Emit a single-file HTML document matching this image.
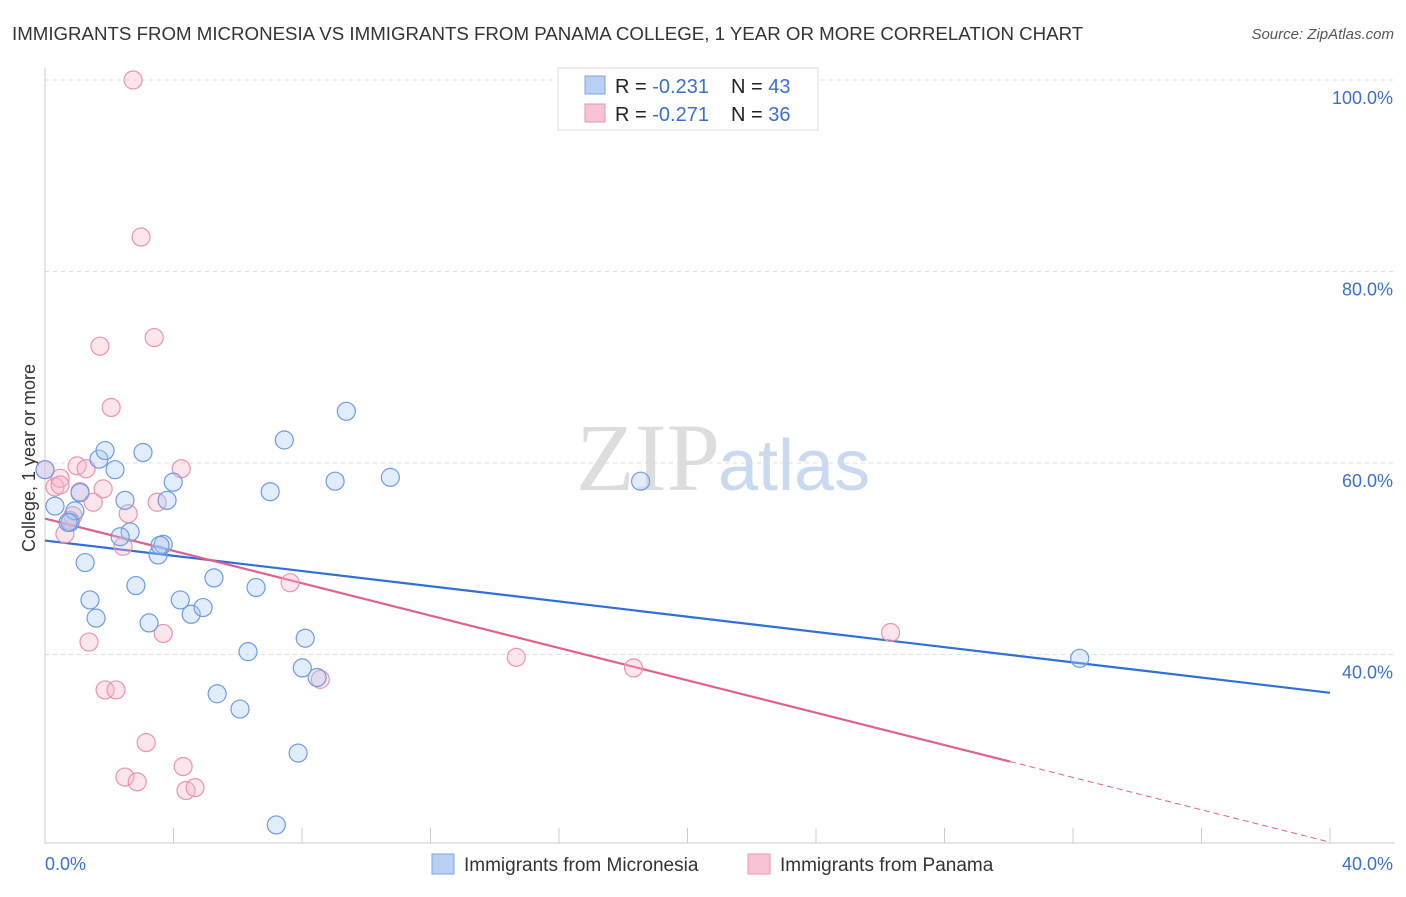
<!DOCTYPE html>
<html><head><meta charset="utf-8"><style>
body{margin:0;background:#fff;font-family:"Liberation Sans",sans-serif}
</style></head><body>
<svg id="chart" width="1406" height="892" xmlns="http://www.w3.org/2000/svg" font-family="Liberation Sans, sans-serif">
<text x="12" y="40" font-size="18.7" fill="#333">IMMIGRANTS FROM MICRONESIA VS IMMIGRANTS FROM PANAMA COLLEGE, 1 YEAR OR MORE CORRELATION CHART</text>
<text x="1394" y="39" font-size="15" fill="#555" font-style="italic" text-anchor="end">Source: ZipAtlas.com</text>
<text x="35" y="458" font-size="18" fill="#333" text-anchor="middle" transform="rotate(-90 35 458)">College, 1 year or more</text>
<text x="720" y="490" font-size="96" fill="#ddd" text-anchor="end" font-family="Liberation Serif, serif">ZIP</text>
<text x="718" y="490" font-size="72" fill="#c9d9f0">atlas</text>
<g id="grid"></g><g id="axes"></g><g id="lines"></g><g id="pts"></g>
<g>
<rect x="558" y="68" width="260" height="62" fill="#fff" stroke="#ddd"/>
<rect x="585" y="76" width="20" height="18" fill="#b8d0f5" stroke="#7fa6e0"/>
<rect x="585" y="104" width="20" height="18" fill="#f8c4d4" stroke="#eb93b0"/>
<text x="615" y="93" font-size="20" fill="#222">R = <tspan fill="#3a6fd0">-0.231</tspan></text>
<text x="731" y="93" font-size="20" fill="#222">N = <tspan fill="#3a6fd0">43</tspan></text>
<text x="615" y="121" font-size="20" fill="#222">R = <tspan fill="#3a6fd0">-0.271</tspan></text>
<text x="731" y="121" font-size="20" fill="#222">N = <tspan fill="#3a6fd0">36</tspan></text>
</g>
<g>
<rect x="432" y="854" width="22" height="20" fill="#b8d0f5" stroke="#7fa6e0"/>
<text x="464" y="871" font-size="19" fill="#333">Immigrants from Micronesia</text>
<rect x="748" y="854" width="22" height="20" fill="#f8c4d4" stroke="#eb93b0"/>
<text x="780" y="871" font-size="19" fill="#333">Immigrants from Panama</text>
</g>
</svg>
<script>
const yTicks=[100,80,60,40];
const yTickLabels=["100.0%","80.0%","60.0%","40.0%"];
const xTickLabels=["0.0%","40.0%"];
const blueX=[0.31,0.78,0.93,1.09,1.68,1.87,2.18,1.25,1.40,1.59,2.49,2.65,2.34,2.83,3.05,3.24,3.52,3.68,3.80,3.99,4.21,4.55,4.92,5.26,5.36,6.07,6.32,6.57,7.01,7.45,7.88,7.20,8.01,8.10,8.47,9.03,9.38,10.75,18.54,32.21,0.72,0,3.58];
const blueY=[55.5,53.8,55.0,56.9,60.4,61.3,59.3,49.6,45.7,43.8,56.1,52.8,52.3,47.2,61.1,43.3,50.4,51.5,56.1,58.0,45.7,44.2,44.9,48.0,35.9,34.3,40.3,47.0,57.0,62.4,29.7,22.2,38.6,41.7,37.6,58.1,65.4,58.5,58.1,39.6,53.8,59.3,51.4];
const pinkX=[2.74,2.99,3.40,1.71,2.06,0,0.31,0.47,1.0,1.28,1.09,1.81,1.50,0.87,0.62,2.59,2.43,3.49,4.24,3.68,1.37,1.87,2.21,3.15,2.49,2.87,4.30,4.39,4.67,7.63,8.57,14.67,18.32,26.32,0.78,0.47];
const pinkY=[100,83.6,73.1,72.2,65.8,59.3,57.5,58.4,59.7,59.4,57.0,57.3,55.9,54.5,52.6,54.7,51.3,55.9,59.4,42.2,41.3,36.3,36.3,30.8,27.2,26.7,28.3,25.8,26.1,47.5,37.4,39.7,38.6,42.3,54.0,57.7];
const blueFit=[51.9,36.0];
const pinkFit=[54.2,20.4];
const pinkSolidEnd=30.04;
const ns="http://www.w3.org/2000/svg";
const X=v=>45+v*32.125, Y=v=>80+(100-v)*9.575;
function mk(tag,a,p){const e=document.createElementNS(ns,tag);for(const k in a)e.setAttribute(k,a[k]);document.getElementById(p).appendChild(e);return e;}
yTicks.forEach((t,i)=>{
 const l=mk('line',{x1:45,x2:1395,y1:Y(t),y2:Y(t),stroke:'#ddd','stroke-dasharray':'4,4'},'grid');
 
 
 const tx=mk('text',{x:1393,y:Y(t)+24,'font-size':18,fill:'#3a6fd0','text-anchor':'end'},'grid');
 tx.textContent=yTickLabels[i];
 
 
});
mk('line',{x1:45,x2:45,y1:68,y2:843,stroke:'#ccc'},'axes');
mk('line',{x1:45,x2:1395,y1:843,y2:843,stroke:'#ccc'},'axes');
for(let i=0;i<=10;i++){const l=mk('line',{x1:X(i*4),x2:X(i*4),y1:828,y2:843,stroke:'#ccc'},'axes');
 
 }
const t0=mk('text',{x:45,y:870,'font-size':18,fill:'#3a6fd0'},'axes');t0.textContent=xTickLabels[0];


const t1=mk('text',{x:1393,y:870,'font-size':18,fill:'#3a6fd0','text-anchor':'end'},'axes');t1.textContent=xTickLabels[1];


function pts(xs,ys,f,s,name){xs.forEach((x,i)=>{const c=mk('circle',{cx:X(x),cy:Y(ys[i]),r:9,fill:f,stroke:s,'stroke-width':1.2},'pts');
 
 });}
pts(pinkX,pinkY,'rgba(248,180,200,0.35)','#eb93b0','panama-point');
pts(blueX,blueY,'rgba(170,200,245,0.35)','#6e9be0','micronesia-point');
const fy=(f,x)=>f[0]+(f[1]-f[0])*x/40;
const bl=mk('line',{x1:X(0),y1:Y(fy(blueFit,0)),x2:X(40),y2:Y(fy(blueFit,40)),stroke:'#2f6fd6','stroke-width':2.2},'lines');


const pl=mk('line',{x1:X(0),y1:Y(fy(pinkFit,0)),x2:X(pinkSolidEnd),y2:Y(fy(pinkFit,pinkSolidEnd)),stroke:'#e0608e','stroke-width':2.2},'lines');


const pd=mk('line',{x1:X(pinkSolidEnd),y1:Y(fy(pinkFit,pinkSolidEnd)),x2:X(40),y2:Y(fy(pinkFit,40)),stroke:'#e0608e','stroke-width':1,'stroke-dasharray':'6,4'},'lines');


</script>
</body></html>
